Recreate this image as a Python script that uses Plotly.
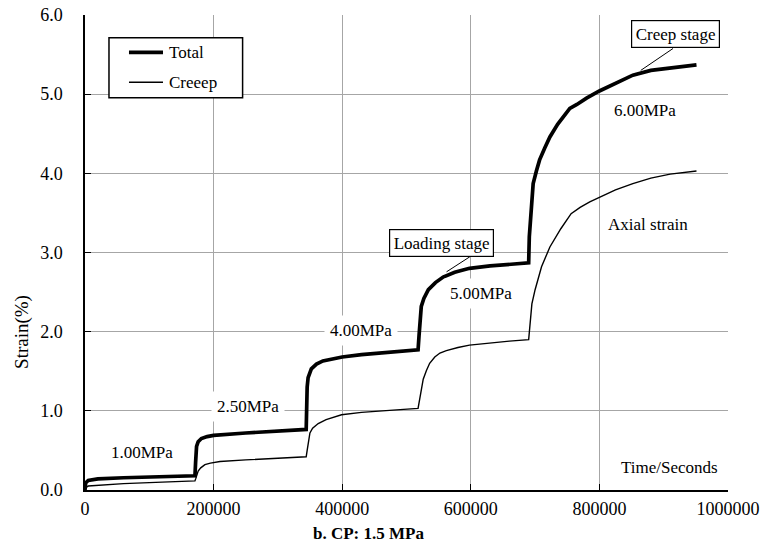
import plotly.graph_objects as go

# Time (s) sampled along the test, and strain (%) for total and creep curves
time_s = [0, 1000, 5000, 20000, 60000, 120000, 171000, 172000, 173500, 176000,
          181000, 190000, 200000, 250000, 300000, 344000, 345500, 347000, 352000,
          360000, 370000, 385000, 400000, 430000, 460000, 490000, 518000, 519500,
          521000, 523000, 527000, 534000, 545000, 557000, 575000, 598000, 630000,
          660000, 690000, 691000, 694000, 697000, 702000, 707000, 715000, 723000,
          735000, 745000, 754000, 765000, 780000, 800000, 825000, 852000, 880000,
          910000, 951000]
total_strain = [0.0, 0.09, 0.12, 0.14, 0.155, 0.17, 0.18, 0.35, 0.55, 0.61,
                0.65, 0.675, 0.69, 0.72, 0.745, 0.765, 1.30, 1.42, 1.53,
                1.59, 1.63, 1.66, 1.68, 1.71, 1.73, 1.75, 1.77, 1.95,
                2.19, 2.32, 2.42, 2.53, 2.62, 2.69, 2.75, 2.80, 2.83,
                2.85, 2.87, 3.20, 3.60, 3.87, 4.03, 4.17, 4.32, 4.46,
                4.62, 4.73, 4.82, 4.87, 4.95, 5.04, 5.14, 5.24, 5.30,
                5.33, 5.37]

creep_time_s = [0, 1000, 5000, 20000, 60000, 120000, 171000, 172500, 174000, 176000,
                180000, 186500, 195000, 210000, 250000, 300000, 344000, 345500, 347000,
                349800, 354000, 362700, 375000, 399000, 430000, 458600, 490000, 518000,
                519500, 521000, 523000, 526000, 531000, 536000, 544000, 552000, 562000,
                580000, 598000, 630000, 660000, 690000, 692000, 695000, 700000, 710000,
                723000, 740000, 756000, 770000, 785000, 800000, 825000, 852000, 880000,
                910000, 951000]
creep_strain = [0.0, 0.03, 0.05, 0.06, 0.08, 0.10, 0.115, 0.15, 0.20, 0.24,
                0.28, 0.32, 0.34, 0.36, 0.38, 0.40, 0.42, 0.50, 0.60,
                0.72, 0.78, 0.84, 0.89, 0.95, 0.98, 1.00, 1.015, 1.03,
                1.10, 1.22, 1.30, 1.40, 1.51, 1.60, 1.68, 1.73, 1.76,
                1.80, 1.83, 1.86, 1.88, 1.90, 2.10, 2.35, 2.53, 2.82,
                3.07, 3.30, 3.49, 3.57, 3.64, 3.70, 3.79, 3.87, 3.94,
                3.99, 4.03]

x_ticks = [0, 200000, 400000, 600000, 800000, 1000000]
y_ticks = [0.0, 1.0, 2.0, 3.0, 4.0, 5.0, 6.0]

series_names = ["Total", "Creeep"]
series_widths = [3.7, 1.4]

# Stress level labels: (text, time, strain)
stress_labels = [
    ("1.00MPa", 88800, 0.47),
    ("2.50MPa", 253900, 1.06),
    ("4.00MPa", 429500, 2.01),
    ("5.00MPa", 616600, 2.48),
    ("6.00MPa", 871300, 4.79),
]

FONT = "Liberation Serif"
GRID = "#a6a6a6"

fig = go.Figure()
fig.add_trace(go.Scatter(x=time_s, y=total_strain, mode="lines", name=series_names[0],
                         showlegend=False,
                         line=dict(color="black", width=series_widths[0])))
fig.add_trace(go.Scatter(x=creep_time_s, y=creep_strain, mode="lines", name=series_names[1],
                         showlegend=False,
                         line=dict(color="black", width=series_widths[1])))

annotations = []
for text, tx, sy in stress_labels:
    annotations.append(dict(x=tx, y=sy, xref="x", yref="y", text=text,
                            showarrow=False, bgcolor="white", borderpad=5,
                            font=dict(family=FONT, size=17, color="black")))

annotations += [
    dict(x=874900, y=3.36, xref="x", yref="y", text="Axial strain", showarrow=False,
         bgcolor="white", borderpad=3, font=dict(family=FONT, size=17, color="black")),
    dict(x=909400, y=0.29, xref="x", yref="y", text="Time/Seconds", showarrow=False,
         bgcolor="white", borderpad=4, font=dict(family=FONT, size=17, color="black")),
    dict(x=554200, y=3.12, xref="x", yref="y", text="Loading stage", showarrow=False,
         bgcolor="white", bordercolor="black", borderwidth=1.2, borderpad=3.5,
         font=dict(family=FONT, size=17, color="black")),
    dict(x=919000, y=5.755, xref="x", yref="y", text="Creep stage", showarrow=False,
         bgcolor="white", bordercolor="black", borderwidth=1.2, borderpad=3.5,
         font=dict(family=FONT, size=17, color="black")),
    dict(x=-0.097, y=0.332, xref="paper", yref="paper", text="Strain(%)",
         textangle=-90, showarrow=False, xanchor="center", yanchor="middle",
         font=dict(family=FONT, size=19, color="black")),
    dict(x=0.4415, y=-0.0916, xref="paper", yref="paper", text="<b>b. CP: 1.5 MPa</b>",
         showarrow=False, xanchor="center", yanchor="middle",
         font=dict(family=FONT, size=17, color="black")),
]

# Leader lines from the stage boxes to the total curve
shapes = [
    dict(type="line", xref="x", yref="y", x0=598500, y0=2.946, x1=562300, y1=2.756,
         line=dict(color="black", width=1)),
    dict(type="line", xref="x", yref="y", x0=914500, y0=5.577, x1=864300, y1=5.30,
         line=dict(color="black", width=1)),
]

# Legend panel: frame, line samples and series names
shapes.append(dict(type="rect", xref="paper", yref="paper",
                   x0=0.0373, x1=0.2451, y0=0.8259, y1=0.9522,
                   fillcolor="white", line=dict(color="black", width=1.5), layer="above"))
legend_rows = [0.9215, 0.8583]
for name, width, ly in zip(series_names, series_widths, legend_rows):
    shapes.append(dict(type="line", xref="paper", yref="paper",
                       x0=0.0684, x1=0.1213, y0=ly, y1=ly,
                       line=dict(color="black", width=width), layer="above"))
    annotations.append(dict(x=0.1275, y=ly, xref="paper", yref="paper", text=name,
                            showarrow=False, xanchor="left", yanchor="middle",
                            font=dict(family=FONT, size=17, color="black")))

fig.update_layout(
    width=762, height=552,
    margin=dict(l=85, r=34, t=15, b=62),
    paper_bgcolor="white", plot_bgcolor="white",
    font=dict(family=FONT, size=18, color="black"),
    showlegend=False,
    annotations=annotations,
    shapes=shapes,
)
fig.update_xaxes(range=[0, 1000000], tickvals=x_ticks, tickformat="d",
                 automargin=False,
                 showgrid=True, gridcolor=GRID, gridwidth=1, zeroline=False,
                 showline=True, linecolor="black", linewidth=1.5,
                 ticks="inside", ticklen=6, tickcolor="black", tickwidth=1.2,
                 ticklabelstandoff=2,
                 tickfont=dict(family=FONT, size=18, color="black"))
fig.update_yaxes(range=[0, 6], tickvals=y_ticks, tickformat=".1f",
                 automargin=False,
                 showgrid=True, gridcolor=GRID, gridwidth=1, zeroline=False,
                 showline=True, linecolor="black", linewidth=1.5,
                 ticks="inside", ticklen=6, tickcolor="black", tickwidth=1.2,
                 ticklabelstandoff=17,
                 tickfont=dict(family=FONT, size=18, color="black"))

fig.write_html("out.html")
